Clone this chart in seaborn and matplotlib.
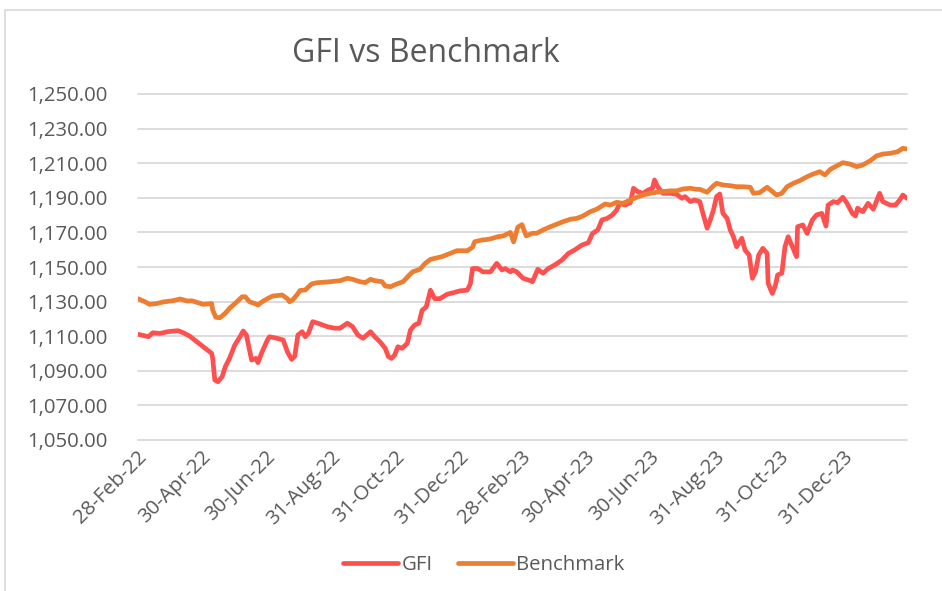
import pandas as pd
import numpy as np
import matplotlib
matplotlib.use("Agg")
import matplotlib.pyplot as plt
import matplotlib.dates as mdates
import matplotlib.transforms as mtransforms
from matplotlib.patches import Rectangle
from matplotlib.ticker import FuncFormatter
import seaborn as sns

# days since 28-Feb-22 for each reading, and the values
gfi_days = [0, 10, 14, 21, 28, 38, 43, 49, 56, 62, 70, 71, 73, 76, 80, 83, 87, 92, 97, 100,
            103, 106, 108, 112, 114, 118, 123, 125, 132, 138, 142, 146, 149, 152, 156, 159, 162, 166, 171, 180,
            187, 192, 199, 204, 209, 214, 221, 225, 230, 235, 238, 241, 244, 247, 251, 256, 259, 263, 267, 270,
            274, 278, 282, 287, 294, 299, 306, 313, 316, 318, 323, 328, 335, 341, 346, 349, 354, 356, 360, 366,
            373, 375, 380, 385, 390, 396, 403, 409, 415, 422, 428, 432, 437, 441, 446, 451, 455, 458, 463, 468,
            471, 475, 480, 485, 489, 491, 494, 499, 506, 512, 517, 520, 525, 529, 534, 537, 541, 544, 547, 550,
            553, 556, 560, 563, 566, 569, 574, 577, 581, 584, 587, 590, 594, 598, 599, 603, 606, 608, 612, 615,
            618, 622, 626, 627, 632, 636, 641, 645, 650, 654, 656, 661, 665, 670, 674, 679, 682, 684, 689, 694,
            699, 705, 708, 715, 720, 724, 727, 731]
gfi_vals = [1111.1, 1109.7, 1112.0, 1111.6, 1112.6, 1113.2, 1112.0, 1110.1, 1106.8, 1103.9,
            1100.1, 1097.2, 1084.7, 1083.7, 1086.6, 1092.4, 1097.2, 1104.9, 1109.7, 1113.0,
            1110.7, 1102.0, 1096.2, 1097.2, 1094.7, 1101.0, 1107.8, 1109.7, 1108.8, 1107.8,
            1101.0, 1096.6, 1098.5, 1110.7, 1112.6, 1109.7, 1111.7, 1118.4, 1117.5, 1115.5,
            1114.6, 1114.6, 1117.5, 1115.5, 1110.7, 1108.8, 1112.6, 1109.7, 1106.8, 1103.0,
            1098.2, 1097.2, 1099.1, 1103.9, 1103.0, 1105.9, 1113.6, 1116.5, 1117.5, 1124.9,
            1126.9, 1136.6, 1131.7, 1131.7, 1134.3, 1135.0, 1136.2, 1136.6, 1140.4, 1149.1,
            1149.1, 1147.2, 1147.2, 1152.1, 1148.3, 1149.1, 1147.2, 1148.3, 1147.2, 1143.5,
            1142.1, 1141.5, 1148.7, 1146.4, 1149.1, 1151.1, 1154.0, 1157.8, 1159.8, 1162.7,
            1164.0, 1169.4, 1171.4, 1177.2, 1178.1, 1180.1, 1182.9, 1186.8, 1185.8, 1187.2,
            1195.5, 1193.6, 1192.6, 1194.5, 1195.5, 1200.3, 1196.4, 1192.6, 1192.6, 1192.0,
            1189.7, 1190.7, 1187.8, 1188.7, 1187.8, 1181.0, 1172.4, 1177.2, 1182.9, 1190.7,
            1192.2, 1181.0, 1178.1, 1171.4, 1167.5, 1161.7, 1166.6, 1159.8, 1156.9, 1143.5,
            1147.2, 1156.9, 1160.8, 1157.9, 1140.5, 1134.7, 1139.6, 1145.4, 1146.4, 1161.7,
            1167.5, 1161.7, 1156.0, 1173.3, 1174.3, 1169.4, 1177.2, 1180.1, 1181.0, 1173.7,
            1185.8, 1187.8, 1187.2, 1190.3, 1186.8, 1181.0, 1179.5, 1184.0, 1182.0, 1186.8,
            1183.4, 1192.6, 1187.8, 1185.8, 1185.8, 1188.7, 1191.6, 1189.7]

bm_days = [0, 7, 11, 18, 24, 33, 40, 47, 51, 56, 62, 70, 71, 74, 78, 83, 87, 94, 99, 102,
           106, 111, 114, 118, 123, 128, 137, 142, 144, 147, 151, 154, 159, 165, 170, 183, 192, 199, 204, 211,
           216, 221, 225, 232, 235, 240, 246, 252, 257, 261, 268, 273, 278, 282, 289, 297, 303, 313, 318, 320,
           327, 333, 337, 342, 347, 354, 357, 361, 365, 369, 375, 379, 385, 392, 398, 404, 411, 417, 423, 430,
           436, 444, 449, 455, 461, 468, 474, 480, 487, 493, 499, 506, 512, 518, 525, 531, 534, 541, 546, 550,
           556, 563, 569, 575, 582, 585, 591, 598, 603, 607, 612, 617, 623, 629, 636, 642, 648, 653, 658, 664,
           670, 677, 683, 689, 696, 702, 708, 715, 722, 727, 731]
bm_vals = [1131.7, 1129.8, 1128.4, 1128.9, 1129.8, 1130.5, 1131.5, 1130.3, 1130.5, 1129.6,
           1128.4, 1128.9, 1125.1, 1120.9, 1120.7, 1123.3, 1126.1, 1129.9, 1132.8, 1132.8,
           1129.9, 1128.9, 1128.0, 1129.9, 1131.7, 1133.2, 1133.8, 1131.7, 1129.9, 1131.0,
           1133.8, 1136.4, 1136.7, 1140.2, 1140.9, 1141.5, 1142.1, 1143.5, 1142.9, 1141.5,
           1141.0, 1142.9, 1142.1, 1141.5, 1139.0, 1138.6, 1140.2, 1141.5, 1144.8, 1147.2,
           1148.7, 1152.1, 1154.4, 1155.0, 1156.0, 1157.9, 1159.4, 1159.4, 1161.4, 1164.6,
           1165.6, 1166.0, 1166.6, 1167.5, 1167.9, 1170.0, 1164.5, 1173.0, 1174.5, 1168.0,
           1169.5, 1169.5, 1171.4, 1173.3, 1174.7, 1176.2, 1177.6, 1178.1, 1179.5, 1182.0,
           1183.4, 1186.4, 1185.8, 1187.4, 1186.8, 1188.7, 1190.3, 1191.6, 1192.6, 1193.2,
           1193.6, 1194.0, 1194.0, 1195.1, 1195.5, 1194.9, 1194.9, 1193.2, 1196.4, 1198.4,
           1197.4, 1197.0, 1196.4, 1196.4, 1196.1, 1192.6, 1193.0, 1196.1, 1193.6, 1191.6,
           1192.6, 1196.4, 1198.4, 1199.9, 1202.2, 1203.8, 1205.1, 1203.2, 1206.4, 1208.4,
           1210.3, 1209.5, 1208.0, 1209.0, 1211.4, 1214.2, 1215.3, 1215.7, 1216.6, 1218.6,
           1218.2]

tick_dates = ["2022-02-28", "2022-04-30", "2022-06-30", "2022-08-31", "2022-10-31", "2022-12-31",
              "2023-02-28", "2023-04-30", "2023-06-30", "2023-08-31", "2023-10-31", "2023-12-31"]
y_ticks = [1050, 1070, 1090, 1110, 1130, 1150, 1170, 1190, 1210, 1230, 1250]

start = pd.Timestamp("2022-02-28")
df = pd.concat([
    pd.DataFrame({"Date": start + pd.to_timedelta(gfi_days, unit="D"), "Value": gfi_vals, "Series": "GFI"}),
    pd.DataFrame({"Date": start + pd.to_timedelta(bm_days, unit="D"), "Value": bm_vals, "Series": "Benchmark"}),
])

sns.set_theme(style="white")
plt.rcParams["font.family"] = ["Open Sans", "DejaVu Sans"]
txt = "#595959"
grid_c = "#d9d9d9"
fs = 14.7

fig = plt.figure(figsize=(9.42, 5.91), dpi=100)
ax = fig.add_axes([138 / 942, 1 - 440 / 591, (907 - 138) / 942, (440 - 94) / 591])

# chart area border like excel
fig.patches.append(Rectangle((5 / 942, -0.05), 1.0, 1 - 10 / 591 + 0.05, transform=fig.transFigure,
                             fill=False, edgecolor=grid_c, linewidth=1.2))

sns.lineplot(data=df, x="Date", y="Value", hue="Series", ax=ax,
             palette={"GFI": "#ff5050", "Benchmark": "#ed7d31"},
             linewidth=3.4, hue_order=["GFI", "Benchmark"], sort=False)

ax.set_xlim(start, pd.Timestamp("2024-02-29"))
ax.set_ylim(1050, 1250)
ax.set_yticks(y_ticks)
ax.yaxis.set_major_formatter(FuncFormatter(lambda v, p: f"{v:,.2f}"))
ax.set_xticks(pd.to_datetime(tick_dates))
ax.xaxis.set_major_formatter(mdates.DateFormatter("%d-%b-%y"))
ax.set_xlabel("")
ax.set_ylabel("")

ax.grid(axis="y", color=grid_c, linewidth=1.3)
ax.grid(axis="x", visible=False)
for gl in ax.get_ygridlines():
    gl.set_clip_on(False)
for s in ax.spines.values():
    s.set_visible(False)
ax.tick_params(axis="both", length=0, colors=txt, labelsize=fs)
ax.tick_params(axis="x", pad=10)
ax.yaxis.set_tick_params(pad=0)
for lab in ax.get_yticklabels():
    lab.set_horizontalalignment("left")
    lab.set_transform(ax.get_yaxis_transform() + mtransforms.ScaledTranslation(-111 / 100, 0, fig.dpi_scale_trans))
shift = mtransforms.ScaledTranslation(6 / 100, 0, fig.dpi_scale_trans)
for lab in ax.get_xticklabels():
    lab.set_rotation(45)
    lab.set_ha("right")
    lab.set_va("center")
    lab.set_rotation_mode("anchor")
    lab.set_transform(lab.get_transform() + shift)

fig.text(426 / 942, 1 - 62 / 591, "GFI vs Benchmark", ha="center", va="baseline",
         fontsize=23, color=txt)

sns.move_legend(ax, "center", bbox_to_anchor=(484 / 942, 1 - 565 / 591),
                bbox_transform=fig.transFigure, ncol=2, frameon=False, title=None,
                fontsize=fs, handlelength=2.7, handletextpad=0.15, columnspacing=1.25)
for t in ax.get_legend().get_texts():
    t.set_color(txt)

fig.savefig("out.png", dpi=100)
